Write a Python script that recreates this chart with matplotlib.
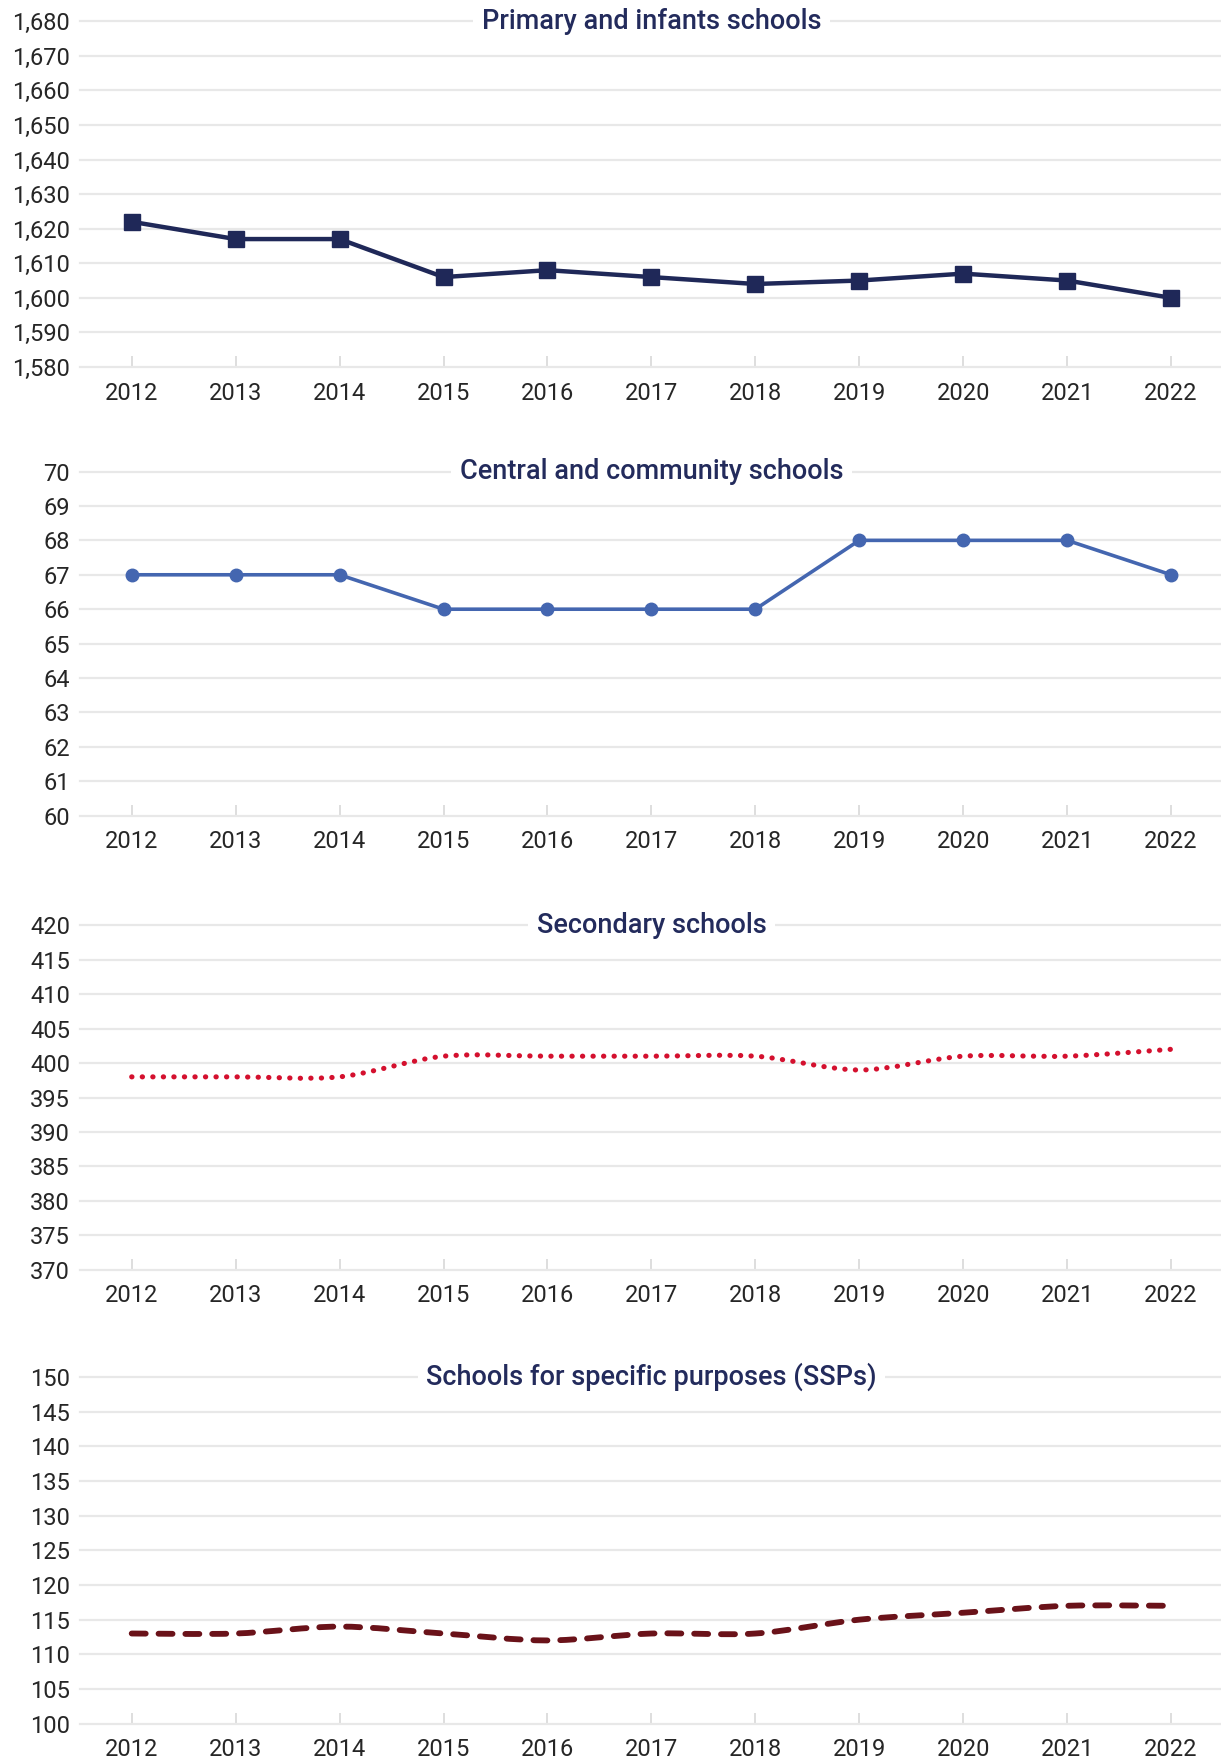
import numpy as np
import matplotlib
matplotlib.use("Agg")
import matplotlib.pyplot as plt
from matplotlib.path import Path
from matplotlib.patches import PathPatch
from matplotlib.ticker import FuncFormatter

plt.rcParams['font.family'] = ['Roboto', 'DejaVu Sans']

years = [2012, 2013, 2014, 2015, 2016, 2017, 2018, 2019, 2020, 2021, 2022]

primary = [1622, 1617, 1617, 1606, 1608, 1606, 1604, 1605, 1607, 1605, 1600]
central = [67, 67, 67, 66, 66, 66, 66, 68, 68, 68, 67]
secondary = [398, 398, 398, 401, 401, 401, 401, 399, 401, 401, 402]
ssp = [113, 113, 114, 113, 112, 113, 113, 115, 116, 117, 117]

titles = ["Primary and infants schools", "Central and community schools",
          "Secondary schools", "Schools for specific purposes (SSPs)"]
y_ranges = [(1580, 1680, 10), (60, 70, 1), (370, 420, 5), (100, 150, 5)]

TITLE_COL = "#232b5c"
GRID_COL = "#e8e8e8"
TEXT_COL = "#262626"


def smooth_path(xs, ys, t=0.15):
    # catmull-rom turned into bezier segments, like excel's "smoothed line"
    pts = np.column_stack([xs, ys]).astype(float)
    p = np.vstack([pts[0], pts, pts[-1]])
    verts = [pts[0]]
    codes = [Path.MOVETO]
    for i in range(1, len(p) - 2):
        c1 = p[i] + (p[i + 1] - p[i - 1]) * t
        c2 = p[i + 1] - (p[i + 2] - p[i]) * t
        verts += [c1, c2, p[i + 1]]
        codes += [Path.CURVE4] * 3
    return Path(verts, codes)


fig = plt.figure(figsize=(12.21, 17.60), dpi=100)

# axes boxes (left, bottom, width, height) in figure fractions
boxes = [
    (0.0653, 0.7915, 0.9364, 0.1964),
    (0.0653, 0.5365, 0.9364, 0.1956),
    (0.0653, 0.2785, 0.9364, 0.1958),
    (0.0653, 0.0207, 0.9364, 0.1968),
]

axes = []
for k in range(4):
    ax = fig.add_axes(boxes[k])
    lo, hi, step = y_ranges[k]
    ax.set_ylim(lo, hi)
    ax.set_xlim(years[0] - 0.5, years[-1] + 0.5)
    ax.set_yticks(np.arange(lo, hi + step / 2, step))
    ax.set_xticks(years)
    ax.set_xticklabels([str(y) for y in years])
    ax.yaxis.grid(True, color=GRID_COL, linewidth=1.6)
    ax.set_axisbelow(True)
    for gl in ax.get_ygridlines():
        gl.set_clip_on(False)
    for s in ['top', 'right', 'left', 'bottom']:
        ax.spines[s].set_visible(False)
    ax.tick_params(axis='y', length=0, pad=7, labelsize=17, labelcolor=TEXT_COL)
    ax.tick_params(axis='x', direction='in', length=8, width=1.4, color="#dedede",
                   pad=10.5, labelsize=17, labelcolor=TEXT_COL)
    ax.text(0.5, 1.0, titles[k], transform=ax.transAxes, ha='center', va='center',
            fontsize=19.5, fontweight='medium', color=TITLE_COL,
            bbox=dict(facecolor='white', edgecolor='none', pad=6))
    axes.append(ax)

axes[0].yaxis.set_major_formatter(FuncFormatter(lambda v, p: f"{int(v):,}"))

# primary: straight line with squares
axes[0].plot(years, primary, color="#1f2858", linewidth=3.2, marker='s',
             markersize=11, zorder=3)

# central: straight line with circles
axes[1].plot(years, central, color="#4466b0", linewidth=2.6, marker='o',
             markersize=9, zorder=3)

# secondary: smooth dotted line
p3 = PathPatch(smooth_path(years, secondary), fill=False, edgecolor="#d4102e",
               linewidth=3.7, linestyle=(0, (0.05, 2.0)), capstyle='round', zorder=3)
axes[2].add_patch(p3)

# ssp: smooth dashed line
p4 = PathPatch(smooth_path(years, ssp), fill=False, edgecolor="#6a1219",
               linewidth=4.2, linestyle=(0, (2.4, 2.2)), capstyle='round', zorder=3)
axes[3].add_patch(p4)

fig.savefig("out.png", dpi=100)
